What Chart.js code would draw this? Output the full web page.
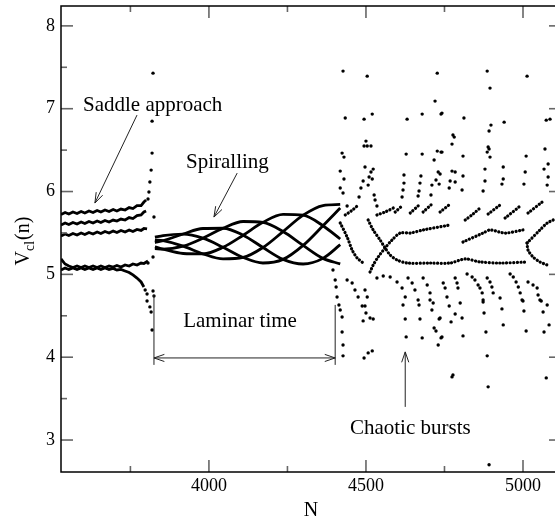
<!DOCTYPE html>
<html>
<head>
<meta charset="utf-8">
<title>V_cl(n) versus N</title>
<script src="https://cdn.jsdelivr.net/npm/chart.js@4.4.1/dist/chart.umd.min.js"></script>
<style>
  html, body { margin: 0; padding: 0; background: #fff; overflow: hidden; }
  canvas { display: block; }
</style>
</head>
<body>
<canvas id="chart" width="570" height="522"></canvas>
<script>
// ---------- axis ticks ----------
const xMajorTicks = [4000, 4500, 5000];
const xMinorTicks = [3750, 4250, 4750];
const yMajorTicks = [3, 4, 5, 6, 7, 8];
const yMinorTicks = [3.5, 4.5, 5.5, 6.5, 7.5];

// ---------- laminar phase before the first burst: [N, V] ----------
const saddleA = [[3529,5.723],[3542,5.747],[3554,5.729],[3567,5.753],[3580,5.735],[3593,5.759],[3605,5.741],[3618,5.765],[3631,5.747],[3644,5.771],[3656,5.753],[3669,5.777],[3682,5.759],[3695,5.783],[3707,5.765],[3720,5.789],[3733,5.777],[3746,5.807],[3758,5.795],[3771,5.831],[3784,5.831],[3793,5.873],[3800,5.897]];
const saddleB = [[3529,5.596],[3542,5.620],[3554,5.602],[3567,5.626],[3580,5.608],[3593,5.632],[3605,5.614],[3618,5.638],[3631,5.620],[3644,5.644],[3656,5.626],[3669,5.650],[3682,5.632],[3695,5.656],[3707,5.644],[3720,5.668],[3733,5.656],[3746,5.686],[3758,5.674],[3771,5.710],[3784,5.717],[3793,5.753],[3800,5.765]];
const saddleC = [[3529,5.463],[3542,5.487],[3554,5.469],[3567,5.493],[3580,5.475],[3593,5.499],[3605,5.481],[3618,5.505],[3631,5.487],[3644,5.511],[3656,5.493],[3669,5.517],[3682,5.499],[3695,5.524],[3707,5.505],[3720,5.530],[3733,5.511],[3746,5.536],[3758,5.517],[3771,5.542],[3784,5.530],[3793,5.554],[3803,5.548]];
const saddleD = [[3529,5.186],[3542,5.125],[3554,5.101],[3567,5.083],[3580,5.101],[3593,5.083],[3605,5.101],[3618,5.083],[3631,5.101],[3644,5.083],[3656,5.101],[3669,5.083],[3682,5.101],[3695,5.089],[3707,5.107],[3720,5.089],[3733,5.113],[3746,5.101],[3758,5.125],[3771,5.113],[3784,5.137],[3793,5.131],[3806,5.162]];
const saddleE = [[3529,5.053],[3542,5.077],[3554,5.059],[3567,5.077],[3580,5.059],[3593,5.077],[3605,5.059],[3618,5.077],[3631,5.059],[3644,5.077],[3656,5.059],[3669,5.077],[3682,5.059],[3695,5.071],[3707,5.053],[3720,5.059],[3733,5.041],[3746,5.023],[3758,4.993],[3771,4.956],[3784,4.908],[3793,4.848]];

// ---------- spiralling laminar phase ----------
const spiral0 = [[3828,5.449],[3854,5.469],[3918,5.487],[3981,5.437],[4045,5.327],[4109,5.204],[4172,5.137],[4236,5.181],[4300,5.350],[4363,5.587],[4418,5.801]];
const spiral1 = [[3828,5.384],[3854,5.406],[3918,5.487],[3981,5.554],[4045,5.557],[4109,5.473],[4172,5.324],[4236,5.181],[4300,5.125],[4363,5.193],[4418,5.358]];
const spiral2 = [[3828,5.311],[3854,5.305],[3918,5.341],[3981,5.437],[4045,5.557],[4109,5.638],[4172,5.628],[4236,5.517],[4300,5.350],[4363,5.193],[4418,5.127]];
const spiral3 = [[3828,5.333],[3854,5.305],[3918,5.252],[3981,5.248],[4045,5.327],[4109,5.473],[4172,5.628],[4236,5.725],[4300,5.715],[4363,5.587],[4418,5.427]];
const spiral4 = [[3828,5.417],[3854,5.406],[3918,5.341],[3981,5.248],[4045,5.186],[4109,5.204],[4172,5.324],[4236,5.517],[4300,5.715],[4363,5.831],[4418,5.844]];

// ---------- short laminar stretches inside the chaotic part ----------
const chaosBand1 = [[4418,5.620],[4440,5.451],[4456,5.294],[4472,5.198],[4491,5.137]];
const chaosBand2 = [[4507,5.656],[4523,5.536],[4545,5.415],[4561,5.319],[4577,5.234],[4599,5.174],[4631,5.137],[4704,5.137],[4768,5.137],[4816,5.186],[4863,5.150],[4927,5.137],[5013,5.150]];
const chaosBand3 = [[4513,5.029],[4523,5.113],[4539,5.210],[4561,5.319],[4583,5.415],[4609,5.499],[4641,5.499],[4682,5.536],[4768,5.596]];
const chaosBand4 = [[4809,5.391],[4873,5.499],[4895,5.536],[4943,5.499],[5000,5.536]];
const chaosBand5 = [[5013,5.379],[5016,5.294],[5032,5.210],[5054,5.150],[5077,5.113]];
const chaosBand6 = [[5013,5.379],[5054,5.536],[5077,5.620],[5096,5.656]];
const chaosStrokes = [
  [[4434,5.717],[4453,5.765],[4472,5.825]],
  [[4535,5.717],[4561,5.753],[4593,5.813]],
  [[4593,5.753],[4618,5.837]],
  [[4641,5.741],[4669,5.837]],
  [[4682,5.753],[4710,5.849]],
  [[4736,5.753],[4768,5.849]],
  [[4816,5.656],[4841,5.729],[4867,5.813]],
  [[4889,5.729],[4927,5.837]],
  [[4943,5.680],[4991,5.825]],
  [[5016,5.741],[5061,5.873]]
];

// ---------- isolated iterates ----------
const firstBurst = [[3806,5.910],[3809,5.994],[3812,6.115],[3816,6.259],[3819,6.464],[3819,6.850],[3822,7.429],
  [3797,4.812],[3803,4.763],[3803,4.679],[3812,4.607],[3816,4.546],[3819,4.329],[3822,4.800],[3825,4.739],
  [3822,5.210],[3825,5.692],[3806,5.137]];
const spiralExit = [[4395,5.053],[4402,4.932],[4405,4.848],[4408,4.727],[4414,4.631],[4418,4.570],[4424,4.486],[4424,4.305],[4427,4.148],[4427,4.016]];
const burstsHigh = [[4427,7.454],[4504,7.393],[4727,7.429],[4720,7.092],[4434,6.887],[4494,6.874],[4520,6.935],[4631,6.874],[4679,6.935],[4739,6.935],
  [4500,6.609],[4494,6.549],[4504,6.549],[4516,6.549],[4424,6.464],[4430,6.416],[4628,6.452],[4679,6.452],[4727,6.488],[4739,6.476],[4717,6.380],
  [4418,6.247],[4497,6.296],[4523,6.271],[4516,6.235],[4491,6.127],[4510,6.175],[4520,6.151],[4430,6.151],[4427,5.982],[4418,6.042],[4484,6.042],
  [4507,6.078],[4621,6.199],[4675,6.187],[4730,6.235],[4723,6.139],[4710,6.078],[4733,6.090],[4621,6.102],[4672,6.102],[4618,6.018],[4669,6.006],
  [4478,5.934],[4526,5.958],[4529,5.897],[4535,5.825],[4440,5.825],[4615,5.934],[4666,5.946],[4707,5.958],
  [4886,7.454],[5013,7.393],[4895,7.249],[4742,6.947],[4812,6.887],[4892,6.730],[4940,6.838],[4898,6.802],[5074,6.862],[5086,6.874],
  [4777,6.682],[4781,6.657],[4774,6.573],[4889,6.537],[4892,6.513],[4886,6.476],[4895,6.416],[5070,6.513],[5010,6.428],[4742,6.476],[4809,6.428],
  [4937,6.296],[5080,6.332],[4774,6.247],[4784,6.235],[4879,6.271],[4736,6.211],[4809,6.187],[5007,6.235],[5067,6.271],
  [4768,6.127],[4784,6.115],[4879,6.127],[4937,6.151],[5080,6.175],[4765,6.042],[4806,6.018],[4873,6.006],[4933,6.090],[5003,6.090],[5077,6.078]];
const burstsLow = [[4488,4.619],[4497,4.619],[4500,4.534],[4491,4.438],[4513,4.474],[4523,4.462],[4494,3.991],[4507,4.052],[4520,4.076],
  [4618,4.631],[4625,4.462],[4628,4.245],[4669,4.631],[4672,4.462],[4679,4.233],[4704,4.691],[4710,4.570],[4717,4.353],[4723,4.317],
  [4733,4.462],[4739,4.233],[4730,4.148],[4765,4.619],[4784,4.522],[4771,4.426],[4800,4.655],[4806,4.474],[4809,4.257],[4777,3.786],[4774,3.762],
  [4873,4.667],[4876,4.534],[4882,4.305],[4886,4.016],[4889,3.642],[4892,2.701],[4933,4.583],[4937,4.390],[5000,4.679],[5003,4.558],[5010,4.317],
  [5058,4.679],[5064,4.546],[5077,4.631],[5067,4.305],[5083,4.390],[5074,3.750],[4736,4.474],[4742,4.245]];
const burstArcs = [[4746,4.896],[4752,4.836],[4758,4.727],[4784,4.956],[4790,4.896],[4793,4.836],
  [4822,5.005],[4838,4.969],[4847,4.932],[4857,4.872],[4863,4.836],[4870,4.776],[4873,4.691],
  [4886,4.956],[4895,4.908],[4901,4.848],[4905,4.776],[4927,4.715],
  [4959,5.005],[4969,4.969],[4978,4.908],[4985,4.848],[4991,4.776],[4997,4.691],
  [5016,4.908],[5032,4.872],[5045,4.836],[5048,4.751],[5054,4.691],
  [4440,4.932],[4456,4.896],[4465,4.812],[4475,4.727],
  [4535,4.956],[4555,4.981],[4577,4.969],[4599,4.908],[4615,4.836],[4625,4.727],
  [4634,4.956],[4647,4.896],[4656,4.812],[4666,4.691],
  [4682,4.956],[4695,4.872],[4704,4.776],[4714,4.655],[4497,4.812],[4504,4.727]];

// ---------- build datasets ----------
const toXY = arr => arr.map(([x, y]) => ({ x, y }));
const bandLines = [saddleA, saddleB, saddleC, saddleD, saddleE];
const spiralLines = [spiral0, spiral1, spiral2, spiral3, spiral4];
const chaosLines = [chaosBand1, chaosBand2, chaosBand3, chaosBand4, chaosBand5, chaosBand6, ...chaosStrokes];
const dotSets = [firstBurst, spiralExit, burstsHigh, burstsLow, burstArcs];

const datasets = [];
bandLines.forEach(b => datasets.push({ data: toXY(b), showLine: true, borderColor: '#000', borderWidth: 2.8, pointRadius: 0, tension: 0 }));
spiralLines.forEach(b => datasets.push({ data: toXY(b), showLine: true, borderColor: '#000', borderWidth: 2.8, pointRadius: 0, cubicInterpolationMode: 'monotone' }));
// iterates inside the bursts are sparse: draw their laminar stretches as chains of dots
chaosLines.forEach(b => datasets.push({ data: toXY(b), showLine: true, borderColor: '#000', borderWidth: 3.2, borderDash: [0.1, 3.4], borderCapStyle: 'round', pointRadius: 0, tension: 0.3 }));
dotSets.forEach(d => datasets.push({ data: toXY(d), showLine: false, pointRadius: 1.7, pointBackgroundColor: '#000', pointBorderWidth: 0 }));

const SERIF = '"Liberation Serif", "Times New Roman", serif';

// frame with inward ticks on all four sides, axis titles and the annotations
const decorations = {
  id: 'decorations',
  afterDraw(chart) {
    const { ctx, chartArea: a, scales: { x, y } } = chart;
    const seg = (x1, y1, x2, y2) => { ctx.beginPath(); ctx.moveTo(x1, y1); ctx.lineTo(x2, y2); ctx.stroke(); };
    const head = (tx, ty, fx, fy) => {
      const ang = Math.atan2(ty - fy, tx - fx), L = 11, w = 0.33;
      seg(tx, ty, tx - L * Math.cos(ang - w), ty - L * Math.sin(ang - w));
      seg(tx, ty, tx - L * Math.cos(ang + w), ty - L * Math.sin(ang + w));
    };
    ctx.save();
    // ticks
    ctx.strokeStyle = '#666'; ctx.lineWidth = 1.6;
    xMajorTicks.forEach(v => { const p = x.getPixelForValue(v); seg(p, a.bottom, p, a.bottom - 12); seg(p, a.top, p, a.top + 12); });
    xMinorTicks.forEach(v => { const p = x.getPixelForValue(v); seg(p, a.bottom, p, a.bottom - 6); seg(p, a.top, p, a.top + 6); });
    yMajorTicks.forEach(v => { const p = y.getPixelForValue(v); seg(a.left, p, a.left + 12, p); seg(a.right, p, a.right - 12, p); });
    yMinorTicks.forEach(v => { const p = y.getPixelForValue(v); seg(a.left, p, a.left + 6, p); seg(a.right, p, a.right - 6, p); });
    // frame
    ctx.strokeStyle = '#000'; ctx.lineWidth = 1.5;
    ctx.strokeRect(a.left, a.top, a.right - a.left, a.bottom - a.top);

    // axis titles
    ctx.fillStyle = '#000';
    ctx.textBaseline = 'alphabetic';
    ctx.font = '20px ' + SERIF;
    ctx.textAlign = 'center';
    ctx.fillText('N', (a.left + a.right) / 2, 516);
    ctx.save();
    ctx.translate(29, 241);
    ctx.rotate(-Math.PI / 2);
    ctx.textAlign = 'left';
    const wV = ctx.measureText('V').width;
    ctx.font = '14px ' + SERIF;
    const wS = ctx.measureText('cl').width;
    ctx.font = '20px ' + SERIF;
    const wP = ctx.measureText('(n)').width;
    let sx = -(wV + wS + wP + 1) / 2;
    ctx.fillText('V', sx, 0); sx += wV;
    ctx.font = '14px ' + SERIF; ctx.fillText('cl', sx, 5); sx += wS + 1;
    ctx.font = '20px ' + SERIF; ctx.fillText('(n)', sx, 0);
    ctx.restore();

    // annotations
    const P = (n, v) => [x.getPixelForValue(n), y.getPixelForValue(v)];
    ctx.font = '21px ' + SERIF;
    ctx.textAlign = 'left';
    let [tx, ty] = P(3599, 6.971); ctx.fillText('Saddle approach', tx, ty);
    [tx, ty] = P(3927, 6.283); ctx.fillText('Spiralling', tx, ty);
    [tx, ty] = P(3918, 4.365); ctx.fillText('Laminar time', tx, ty);
    [tx, ty] = P(4449, 3.075); ctx.fillText('Chaotic bursts', tx, ty);

    ctx.strokeStyle = '#222'; ctx.lineWidth = 1;
    let [x1, y1] = P(3771, 6.923), [x2, y2] = P(3637, 5.861);
    seg(x1, y1, x2, y2); head(x2, y2, x1, y1);
    [x1, y1] = P(4090, 6.223); [x2, y2] = P(4016, 5.692);
    seg(x1, y1, x2, y2); head(x2, y2, x1, y1);
    [x1, y1] = P(4625, 3.400); [x2, y2] = P(4625, 4.064);
    seg(x1, y1, x2, y2); head(x2, y2, x1, y1);
    // laminar-time bracket
    const [lx, ly] = P(3825, 3.991), [rx] = P(4402, 3.991);
    const [, lTop] = P(3825, 4.751), [, rTop] = P(4402, 4.631), [, bBot] = P(3825, 3.907);
    seg(lx, lTop, lx, bBot); seg(rx, rTop, rx, bBot);
    seg(lx, ly, rx, ly); head(lx, ly, rx, ly); head(rx, ly, lx, ly);
    ctx.restore();
  }
};

const noEdgePadding = s => { s.paddingTop = 0; s.paddingBottom = 0; s.paddingLeft = 0; s.paddingRight = 0; };

new Chart(document.getElementById('chart'), {
  type: 'scatter',
  data: { datasets },
  options: {
    responsive: false,
    animation: false,
    devicePixelRatio: 1,
    layout: { padding: { left: 0, top: 6, right: 9, bottom: 0 } },
    plugins: { legend: { display: false }, tooltip: { enabled: false } },
    elements: { point: { hoverRadius: 0 } },
    scales: {
      x: {
        type: 'linear', min: 3529, max: 5121,
        afterBuildTicks: s => { s.ticks = xMajorTicks.map(v => ({ value: v })); },
        afterFit: s => { s.height = 50; noEdgePadding(s); },
        grid: { display: false, drawTicks: false },
        border: { display: false },
        ticks: { color: '#000', font: { family: SERIF, size: 18 }, padding: 3, maxRotation: 0, callback: v => String(v) }
      },
      y: {
        type: 'linear', min: 2.614, max: 8.24,
        afterBuildTicks: s => { s.ticks = yMajorTicks.map(v => ({ value: v })); },
        afterFit: s => { s.width = 61; noEdgePadding(s); },
        grid: { display: false, drawTicks: false },
        border: { display: false },
        ticks: { color: '#000', font: { family: SERIF, size: 18 }, padding: 6, callback: v => String(v) }
      }
    }
  },
  plugins: [decorations]
});
</script>
</body>
</html>
